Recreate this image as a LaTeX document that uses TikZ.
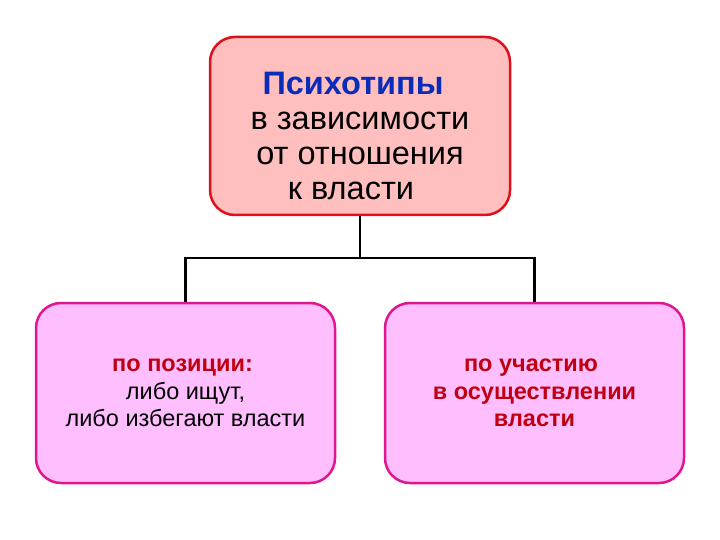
\documentclass[tikz,border=0pt]{standalone}
\usepackage{fontspec}
\setmainfont{Liberation Sans}
\definecolor{topfill}{HTML}{FFBFBF}
\definecolor{topline}{HTML}{E0101A}
\definecolor{subfill}{HTML}{FFBFFF}
\definecolor{subline}{HTML}{E0168F}
\definecolor{headblue}{HTML}{0A2DB8}
\definecolor{headred}{HTML}{C00010}
\begin{document}
\begin{tikzpicture}[x=1pt, y=-1pt,
    box/.style={draw, line width=2.5pt, rounded corners=25pt, align=center, inner sep=0pt},
    topbox/.style={box, fill=topfill, draw=topline, minimum width=300pt, minimum height=178pt,
        font=\fontsize{32.5}{35}\selectfont},
    subbox/.style={box, fill=subfill, draw=subline, minimum width=299pt, minimum height=180pt,
        font=\fontsize{23.5}{27.5}\selectfont},
    link/.style={line width=2.5pt}]
    \useasboundingbox (0,0) rectangle (720,540);

    \node[topbox] (types) at (360,126) {\rule{0pt}{43pt}\textcolor{headblue}{\textbf{Психотипы}}\hspace*{14pt}\\в зависимости\\от отношения\\к власти\hspace*{18pt}};
    \node[subbox] (position) at (185.5,393) {\textcolor{headred}{\textbf{по позиции:}}\hspace*{6pt}\\либо ищут,\hspace*{12pt}\\либо избегают власти};
    \node[subbox, text=headred, font=\fontsize{23.5}{27.5}\selectfont\bfseries] (share) at (534.5,393) {по участию\hspace*{7pt}\\в осуществлении\\власти};

    \coordinate (fork) at (360,258);
    \draw[link] (types.south) -- (fork) -| (position.north);
    \draw[link] (fork) -| (share.north);
\end{tikzpicture}
\end{document}
